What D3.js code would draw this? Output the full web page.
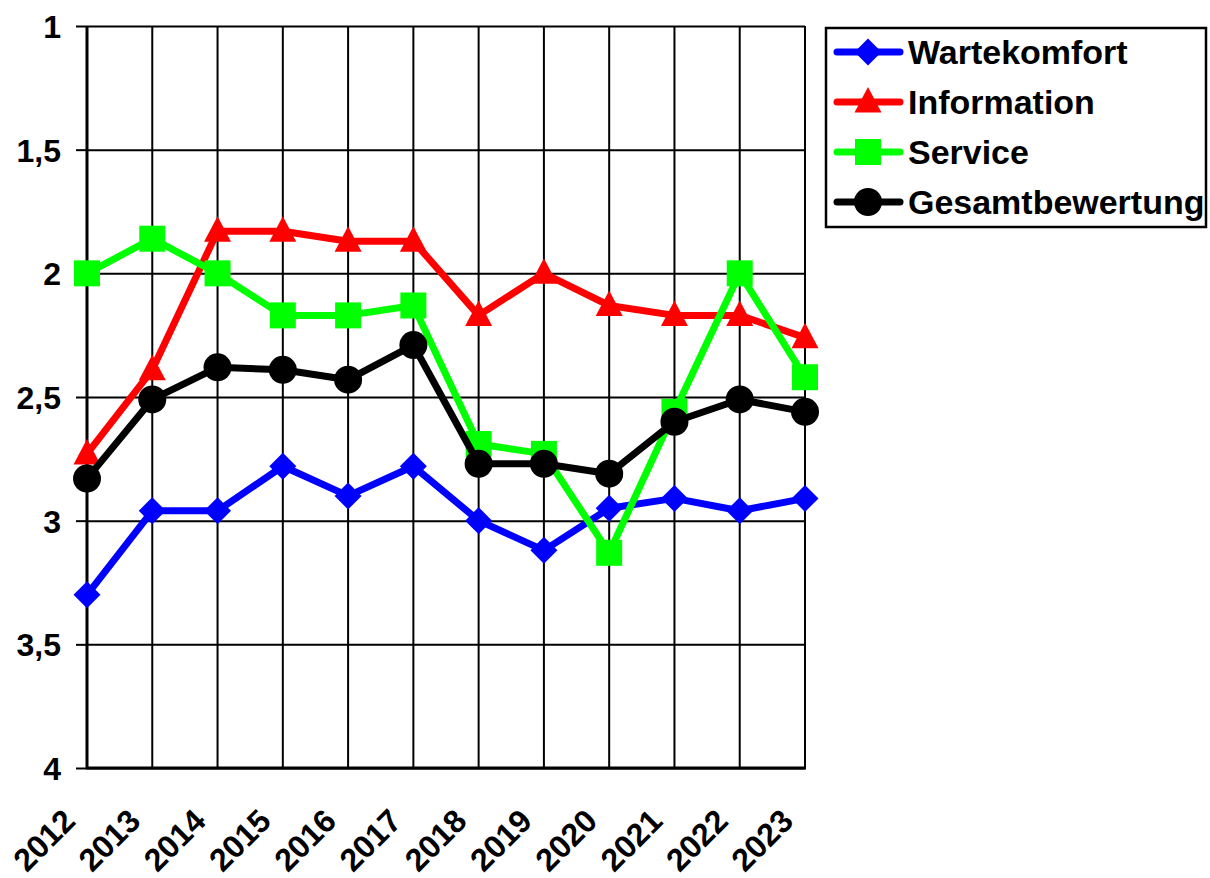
<!DOCTYPE html>
<html>
<head>
<meta charset="utf-8">
<script src="https://cdn.jsdelivr.net/npm/d3@7"></script>
<style>
  html, body { margin: 0; padding: 0; background: #fff; }
  svg { display: block; }
  text { font-family: "Liberation Sans", Arial, sans-serif; font-weight: bold; fill: #000; }
</style>
</head>
<body>
<svg id="chart" width="1210" height="878"></svg>
<script>
const years = ["2012","2013","2014","2015","2016","2017","2018","2019","2020","2021","2022","2023"];
const yTicks = [1, 1.5, 2, 2.5, 3, 3.5, 4];
const seriesNames = ["Wartekomfort", "Information", "Service", "Gesamtbewertung"];
const seriesColors = ["#0000FF", "#FF0000", "#00FF00", "#000000"];
const seriesMarkers = ["diamond", "triangle", "square", "circle"];
const wartekomfort = [3.30, 2.96, 2.96, 2.78, 2.90, 2.78, 3.00, 3.12, 2.95, 2.91, 2.96, 2.91];
const information = [2.73, 2.39, 1.83, 1.83, 1.87, 1.87, 2.17, 2.00, 2.13, 2.17, 2.17, 2.26];
const service = [2.00, 1.86, 2.00, 2.17, 2.17, 2.13, 2.69, 2.73, 3.13, 2.56, 2.00, 2.42];
const gesamtbewertung = [2.83, 2.51, 2.38, 2.39, 2.43, 2.29, 2.77, 2.77, 2.81, 2.60, 2.51, 2.56];
const seriesValues = [wartekomfort, information, service, gesamtbewertung];

(function () {
const svg = d3.select("#chart");
const pLeft = 87, pRight = 805, pTop = 26, pBottom = 768;

const x = d3.scalePoint().domain(years).range([pLeft, pRight]);
const y = d3.scaleLinear().domain([1, 4]).range([pTop, pBottom]);

// horizontal gridlines + y axis
const yAxis = d3.axisLeft(y).tickValues(yTicks).tickSize(11)
  .tickFormat(d => String(d).replace(".", ","));
const gy = svg.append("g").attr("transform", `translate(${pLeft},0)`).call(yAxis);
gy.select(".domain").remove();
gy.selectAll(".tick line").attr("stroke", "#000").attr("stroke-width", 2);
gy.selectAll(".tick").append("line")
  .attr("x1", 0).attr("x2", pRight - pLeft)
  .attr("stroke", "#000").attr("stroke-width", 2);
gy.selectAll(".tick text")
  .attr("x", -26).attr("dy", "0.36em")
  .style("font-size", "32px").style("font-family", "'Liberation Sans', Arial, sans-serif")
  .style("font-weight", "bold").attr("fill", "#000");

// vertical gridlines
svg.append("g").selectAll("line").data(years).join("line")
  .attr("x1", d => x(d)).attr("x2", d => x(d))
  .attr("y1", pTop).attr("y2", pBottom)
  .attr("stroke", "#000").attr("stroke-width", 2);

// axes lines
svg.append("line").attr("x1", pLeft).attr("x2", pLeft).attr("y1", pTop).attr("y2", pBottom + 1)
  .attr("stroke", "#000").attr("stroke-width", 3);
svg.append("line").attr("x1", pLeft - 1).attr("x2", pRight + 1).attr("y1", pBottom).attr("y2", pBottom)
  .attr("stroke", "#000").attr("stroke-width", 3);

// x labels
svg.append("g").selectAll("text").data(years).join("text")
  .attr("transform", d => `translate(${x(d) - 10},${pBottom + 55}) rotate(-45)`)
  .attr("text-anchor", "end")
  .style("font-size", "32px")
  .text(d => d);

function markerPath(type) {
  switch (type) {
    case "diamond": return "M0,-13.5L13.5,0L0,13.5L-13.5,0Z";
    case "triangle": return "M0,-15L13.5,10.5L-13.5,10.5Z";
    case "square": return "M-13,-13L13,-13L13,13L-13,13Z";
    case "circle": return d3.symbol(d3.symbolCircle, Math.PI * 14 * 14)();
  }
}

const line = d3.line().x((d, i) => x(years[i])).y(d => y(d));

seriesValues.forEach((vals, si) => {
  const g = svg.append("g");
  g.append("path").datum(vals).attr("d", line)
    .attr("fill", "none").attr("stroke", seriesColors[si])
    .attr("stroke-width", 7).attr("stroke-linejoin", "round").attr("stroke-linecap", "round");
  g.selectAll("path.m").data(vals).join("path").attr("class", "m")
    .attr("d", markerPath(seriesMarkers[si]))
    .attr("transform", (d, i) => `translate(${x(years[i])},${y(d)})`)
    .attr("fill", seriesColors[si]);
});

// legend
const lg = svg.append("g");
lg.append("rect").attr("x", 826).attr("y", 28).attr("width", 380).attr("height", 199)
  .attr("fill", "#fff").attr("stroke", "#000").attr("stroke-width", 2.5);
seriesNames.forEach((name, i) => {
  const cy = 52 + i * 50;
  lg.append("line").attr("x1", 837).attr("x2", 900).attr("y1", cy).attr("y2", cy)
    .attr("stroke", seriesColors[i]).attr("stroke-width", 7).attr("stroke-linecap", "round");
  lg.append("path").attr("d", markerPath(seriesMarkers[i]))
    .attr("transform", `translate(868,${cy})`).attr("fill", seriesColors[i]);
  lg.append("text").attr("x", 908).attr("y", cy).attr("dy", "0.36em")
    .style("font-size", "33px").attr("transform", "translate(908,0) scale(1.03,1) translate(-908,0)")
    .text(name);
});
})();
</script>
</body>
</html>
